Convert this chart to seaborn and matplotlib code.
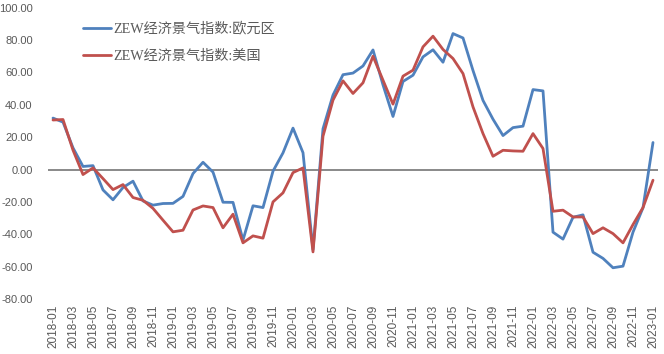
import numpy as np
import pandas as pd
import seaborn as sns
import matplotlib.pyplot as plt

# monthly ZEW sentiment readings, 2018-01 .. 2023-01
months = pd.period_range("2018-01", "2023-01", freq="M").strftime("%Y-%m").tolist()

euro_area = [31.8, 29.3, 13.4, 1.9, 2.4, -12.6, -18.7, -11.1, -7.2, -19.4, -22.0, -21.0,
             -20.9, -16.6, -2.5, 4.5, -1.6, -20.2, -20.3, -43.6, -22.4, -23.5, -1.0, 10.3,
             25.6, 10.4, -49.5, 25.2, 46.0, 58.6, 59.6, 64.0, 73.9, 52.3, 32.8, 54.4,
             58.3, 69.6, 74.0, 66.3, 84.0, 81.3, 61.2, 42.7, 31.1, 21.0, 25.9, 26.8,
             49.4, 48.6, -38.7, -43.0, -29.5, -28.0, -51.1, -54.9, -60.7, -59.7, -38.7, -23.6,
             16.7]

usa = [30.6, 30.9, 12.0, -3.1, 1.0, -5.6, -12.4, -9.3, -17.3, -19.0, -24.0, -31.3,
       -38.5, -37.5, -25.0, -22.5, -23.5, -36.0, -27.6, -45.3, -41.0, -42.4, -20.0, -14.4,
       -1.9, 1.0, -50.9, 20.6, 42.9, 54.8, 47.0, 53.6, 70.0, 55.2, 40.4, 57.7,
       61.4, 75.8, 82.4, 74.2, 68.6, 59.3, 38.7, 22.2, 8.2, 11.9, 11.5, 11.3,
       22.2, 13.0, -25.8, -25.1, -29.3, -29.3, -39.6, -36.0, -39.6, -45.3, -34.0, -23.5,
       -6.6]

series_names = ["ZEW经济景气指数:欧元区", "ZEW经济景气指数:美国"]
series_colors = ["#4F81BD", "#C0504D"]

df = pd.DataFrame({
    "idx": list(range(len(months))) * 2,
    "value": euro_area + usa,
    "series": [series_names[0]] * len(months) + [series_names[1]] * len(months),
})

sns.set_style("white")
plt.rcParams["font.family"] = ["Liberation Sans", "Noto Sans CJK SC"]

fig = plt.figure(figsize=(6.64, 3.54), dpi=100)
ax = fig.add_axes([48 / 664, 1 - 299 / 354, 610 / 664, (299 - 7.7) / 354])

sns.lineplot(data=df, x="idx", y="value", hue="series", palette=series_colors,
             linewidth=2, ax=ax)

ax.axhline(0, color="#808080", linewidth=1.3, zorder=0)
ax.set_xlim(-0.5, len(months) - 0.5)
ax.set_ylim(-80, 100)
ax.set_yticks(np.arange(-80, 101, 20))
ax.set_yticklabels([f"{v:.2f}" for v in np.arange(-80, 101, 20)], fontsize=8, color="#595959")
ax.set_xticks(range(0, len(months), 2))
ax.set_xticklabels(months[::2], rotation=90, fontsize=8.5, color="#595959")
ax.tick_params(axis="both", length=0, pad=4)
ax.tick_params(axis="y", pad=11)
ax.set_xlabel("")
ax.set_ylabel("")
for s in ax.spines.values():
    s.set_visible(False)

leg = ax.legend(loc="upper left", bbox_to_anchor=(0.036, 0.995), frameon=False,
                handlelength=2.0, handletextpad=0.15, labelspacing=1.0,
                prop={"family": ["Liberation Serif", "Noto Sans CJK SC"], "size": 10.2})
for t in leg.get_texts():
    t.set_color("#595959")

fig.savefig("out.png", dpi=100)
